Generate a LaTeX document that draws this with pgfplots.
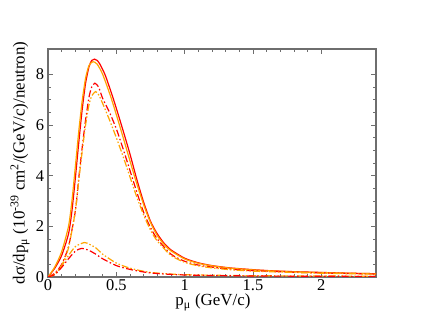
\documentclass[border=0pt]{standalone}
\usepackage{pgfplots}
\pgfplotsset{compat=1.18}
\usepackage{fontspec}
\setmainfont{Liberation Serif}

\definecolor{cred}{RGB}{255,0,0}
\definecolor{corange}{RGB}{255,165,0}
\definecolor{frame}{RGB}{110,110,110}

\begin{document}
\begin{tikzpicture}
  \path[use as bounding box] (-48bp,-50bp) rectangle (375bp,277bp);
  \begin{axis}[
    at={(0,0)}, anchor=south west,
    scale only axis,
    width=328bp, height=228bp,
    xmin=0, xmax=2.4, ymin=0, ymax=9,
    xtick={0,0.5,1,1.5,2},
    xticklabels={0,0.5,1,1.5,2},
    ytick={0,2,4,6,8},
    minor x tick num=4,
    minor y tick num=3,
    tick align=inside,
    major tick length=5bp,
    minor tick length=3bp,
    tick style={frame, line width=0.8bp},
    axis line style={frame, line width=1.5bp},
    /pgf/number format/assume math mode=true,
    tick label style={font=\fontsize{16.5}{16.5}\selectfont},
    xticklabel style={yshift=1bp},
    yticklabel style={xshift=-0.5bp},
    label style={font=\fontsize{17}{17}\selectfont},
    xlabel={p\textsubscript{μ} (GeV/c)},
    ylabel={dσ/dp\textsubscript{μ} (10\textsuperscript{-39} cm\textsuperscript{2}/(GeV/c)/neutron)},
    xlabel style={at={(axis description cs:0.503,-0.112)}, anchor=center},
    ylabel style={at={(axis description cs:-0.085,0.5)}, anchor=center},
    clip=true,
  ]
    % solid red
    \addplot[cred, line width=1.2bp, smooth, tension=0.4] coordinates {
      (0,0) (0.05,0.35) (0.1,0.85) (0.15,1.7) (0.175,2.6) (0.2,3.9)
      (0.225,5.3) (0.25,6.6) (0.275,7.65) (0.3,8.3) (0.32,8.55) (0.34,8.6)
      (0.36,8.55) (0.38,8.4) (0.42,7.95) (0.48,7.0) (0.54,5.95) (0.6,4.85)
      (0.65,3.85) (0.7,2.95) (0.75,2.2) (0.8,1.7) (0.85,1.33) (0.9,1.07)
      (1.0,0.74) (1.1,0.56) (1.2,0.45) (1.33,0.36) (1.5,0.29) (1.62,0.25)
      (1.8,0.21) (2.0,0.18) (2.2,0.15) (2.4,0.13)};
    % solid orange
    \addplot[corange, line width=1.2bp, smooth, tension=0.4] coordinates {
      (0,0) (0.05,0.4) (0.1,1.0) (0.15,2.0) (0.175,3.0) (0.2,4.35)
      (0.225,5.75) (0.25,6.95) (0.275,7.85) (0.3,8.35) (0.33,8.5) (0.36,8.4)
      (0.4,8.0) (0.46,7.1) (0.52,6.05) (0.58,4.95) (0.64,3.85) (0.7,2.85)
      (0.75,2.15) (0.8,1.63) (0.85,1.28) (0.9,1.03) (1.0,0.71) (1.1,0.54)
      (1.2,0.44) (1.33,0.35) (1.5,0.28) (1.62,0.245) (1.8,0.205) (2.0,0.175)
      (2.2,0.15) (2.4,0.13)};
    % dash-dot red
    \addplot[cred, line width=1.2bp, smooth, tension=0.4,
      dash pattern=on 7bp off 2.5bp on 1.5bp off 2.5bp] coordinates {
      (0,0) (0.05,0.15) (0.1,0.5) (0.15,1.2) (0.2,2.6) (0.225,3.9)
      (0.25,5.1) (0.275,6.2) (0.3,7.1) (0.32,7.5) (0.343,7.65) (0.37,7.5)
      (0.4,7.05) (0.45,6.5) (0.5,5.85) (0.55,5.05) (0.6,4.2) (0.65,3.35)
      (0.7,2.55) (0.75,1.95) (0.8,1.5) (0.9,0.9) (1.0,0.62) (1.1,0.47)
      (1.2,0.39) (1.33,0.31) (1.5,0.25) (1.8,0.19) (2.0,0.16) (2.2,0.14)
      (2.4,0.12)};
    % dash-dot-dot orange
    \addplot[corange, line width=1.2bp, smooth, tension=0.4,
      dash pattern=on 7bp off 2bp on 1.5bp off 2bp on 1.5bp off 2bp] coordinates {
      (0,0) (0.05,0.1) (0.1,0.45) (0.15,1.15) (0.2,2.6) (0.225,3.8)
      (0.25,4.95) (0.275,6.0) (0.3,6.8) (0.32,7.15) (0.348,7.32) (0.37,7.2)
      (0.4,6.85) (0.45,6.2) (0.5,5.5) (0.55,4.75) (0.6,3.95) (0.65,3.15)
      (0.7,2.45) (0.75,1.85) (0.8,1.42) (0.9,0.85) (1.0,0.58) (1.1,0.44)
      (1.2,0.36) (1.33,0.29) (1.5,0.23) (1.8,0.18) (2.0,0.15) (2.2,0.13)
      (2.4,0.11)};
    % lower orange
    \addplot[corange, line width=1.2bp, smooth, tension=0.4,
      dash pattern=on 7bp off 2bp on 1.5bp off 2bp on 1.5bp off 2bp] coordinates {
      (0,0) (0.05,0.12) (0.1,0.45) (0.15,0.85) (0.2,1.2) (0.265,1.36)
      (0.3,1.3) (0.35,1.15) (0.4,0.9) (0.5,0.55) (0.6,0.35) (0.75,0.18)
      (1.0,0.09) (1.5,0.05) (2.0,0.04) (2.4,0.03)};
    % lower red
    \addplot[cred, line width=1.2bp, smooth, tension=0.4,
      dash pattern=on 7bp off 2.5bp on 1.5bp off 2.5bp] coordinates {
      (0,0) (0.05,0.1) (0.1,0.38) (0.15,0.72) (0.2,1.02) (0.246,1.13)
      (0.3,1.05) (0.35,0.9) (0.4,0.72) (0.5,0.45) (0.6,0.3) (0.75,0.16)
      (1.0,0.08) (1.5,0.04) (2.0,0.03) (2.4,0.02)};
  \end{axis}
\end{tikzpicture}
\end{document}
